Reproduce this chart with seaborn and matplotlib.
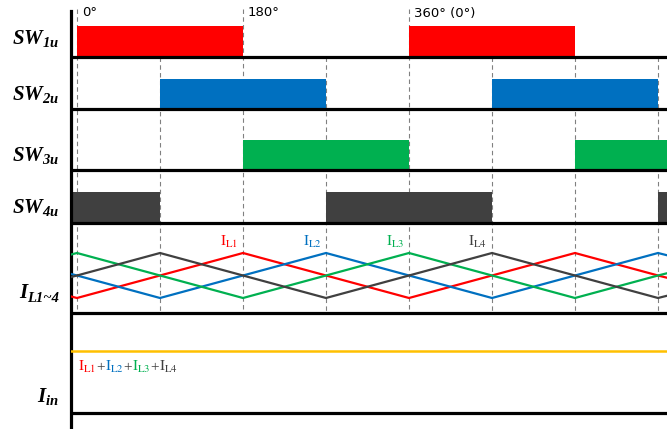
import numpy as np
import pandas as pd
import matplotlib
matplotlib.use("Agg")
import matplotlib.pyplot as plt
import seaborn as sns

# ---------------- data ----------------
angle_marks = [0, 90, 180, 270, 360, 450, 540, 630]
major_marks = [0, 180, 360]
major_labels = ["0°", "180°", "360° (0°)"]

sw1_start, sw1_end = [0, 360], [180, 540]
sw2_start, sw2_end = [90, 450], [270, 630]
sw3_start, sw3_end = [180, 540], [360, 640]
sw4_start, sw4_end = [-8, 270, 630], [90, 450, 640]

t_pts = [-7.6, 0, 90, 180, 270, 360, 450, 540, 630, 639.8]
il1 = [0.04, 0.0, 0.5, 1.0, 0.5, 0.0, 0.5, 1.0, 0.5, 0.45]
il2 = [0.54, 0.5, 0.0, 0.5, 1.0, 0.5, 0.0, 0.5, 1.0, 0.95]
il3 = [0.96, 1.0, 0.5, 0.0, 0.5, 1.0, 0.5, 0.0, 0.5, 0.55]
il4 = [0.46, 0.5, 1.0, 0.5, 0.0, 0.5, 1.0, 0.5, 0.0, 0.05]
iin_t = [-7.6, 639.8]
iin = [2.0, 2.0]

series_names = ["IL1", "IL2", "IL3", "IL4"]
label_peaks = [180, 270, 360, 450]

# ---------------- style ----------------
sns.set_theme(style="white")
plt.rcParams["font.family"] = ["DejaVu Sans"]
plt.rcParams["mathtext.fontset"] = "custom"
plt.rcParams["mathtext.rm"] = "Liberation Serif:italic:bold"
plt.rcParams["mathtext.it"] = "Liberation Serif:italic:bold"
plt.rcParams["mathtext.bf"] = "Liberation Serif:italic:bold"

RED, BLUE, GREEN, GRAY, YEL = "#FF0000", "#0070C0", "#00B050", "#404040", "#FFC000"
colors = [RED, BLUE, GREEN, GRAY]

W, H, DPI = 667, 429, 100
fig = plt.figure(figsize=(W / DPI, H / DPI), dpi=DPI)
x0px = 70.5
ax = fig.add_axes([x0px / W, 0, (W - x0px) / W, 1])


def px2deg(px):
    return (px - 77) * 90.0 / 83.0


ax.set_xlim(px2deg(x0px), px2deg(667))
ax.set_ylim(H, 0)
ax.set_xticks([])
ax.set_yticks([])
for s in ["top", "right", "bottom"]:
    ax.spines[s].set_visible(False)
ax.spines["left"].set_linewidth(2.3)
ax.spines["left"].set_color("black")
ax.spines["left"].set_bounds(H, 11)

# dashed guide lines
for a in angle_marks:
    top = 9 if a in major_marks else 57
    ax.vlines(a, top, 312, colors="#808080", linewidth=0.8,
              linestyles=(0, (4, 3)), zorder=1)

# switch bars
rows = [
    (sw1_start, sw1_end, RED, 26, 57),
    (sw2_start, sw2_end, BLUE, 79, 109),
    (sw3_start, sw3_end, GREEN, 140, 170),
    (sw4_start, sw4_end, GRAY, 192, 223),
]
for st, en, c, top, base in rows:
    ax.broken_barh([(s, e - s) for s, e in zip(st, en)], (top, base - top),
                   facecolors=c, edgecolor="none", zorder=2)

# baselines
for yb in [57, 109, 170, 223, 313, 413]:
    ax.hlines(yb, px2deg(x0px), px2deg(667), colors="black", linewidth=2.3, zorder=4)

# currents via seaborn
TROUGH, AMP = 298, 45
frames = []
for name, vals in zip(series_names, [il1, il2, il3, il4]):
    frames.append(pd.DataFrame({"angle": t_pts,
                                "y": [TROUGH - v * AMP for v in vals],
                                "series": name}))
df = pd.concat(frames, ignore_index=True)
sns.lineplot(data=df, x="angle", y="y", hue="series", palette=colors,
             sort=False, legend=False, linewidth=1.6, ax=ax, zorder=3)

# input current
sns.lineplot(x=iin_t, y=[351 + 0 * v for v in iin], color=YEL, linewidth=1.8,
             ax=ax, zorder=3)

# degree labels
for a, lab in zip(major_marks, major_labels):
    ax.text(a + px2deg(82) - px2deg(77), 13, lab, fontsize=9.5, ha="left",
            va="center", color="black")

# row labels
row_labels = [r"$\mathrm{SW_{1u}}$", r"$\mathrm{SW_{2u}}$", r"$\mathrm{SW_{3u}}$",
              r"$\mathrm{SW_{4u}}$", None, r"$\mathrm{I_{in}}$"]
row_base = [44, 100, 161, 213, 298, 402]
for lab, yb in zip(row_labels, row_base):
    if lab is None:
        continue
    ax.text(px2deg(59), yb, lab, fontsize=15, ha="right", va="baseline",
            color="black", clip_on=False)

# I_L1~4 label built from two pieces
serif_bi = dict(family="Liberation Serif", weight="bold", style="italic", color="black")
sub = ax.text(px2deg(59), 302, "L1~4", fontsize=10.5, ha="right", va="baseline",
              clip_on=False, **serif_bi)
ax.annotate("I", xy=(0, 298), xycoords=(sub, "data"), fontsize=15, ha="right",
            va="baseline", **serif_bi)

# current labels
for name, pk, c in zip(series_names, label_peaks, colors):
    ax.text(pk - 5, 246, r"$\mathrm{I_{%s}}$" % name[1:], fontsize=11,
            math_fontfamily="stix", ha="right", va="baseline", color=c)

# sum formula
pieces = [(r"$\mathrm{I_{L1}}$", RED), ("+", GRAY),
          (r"$\mathrm{I_{L2}}$", BLUE), ("+", GRAY),
          (r"$\mathrm{I_{L3}}$", GREEN), ("+", GRAY),
          (r"$\mathrm{I_{L4}}$", GRAY)]
prev = ax.text(px2deg(78), 371, pieces[0][0], fontsize=11, math_fontfamily="stix",
               ha="left", va="baseline", color=pieces[0][1])
for txt, c in pieces[1:]:
    extra = {"family": "Liberation Serif"} if txt == "+" else {"math_fontfamily": "stix"}
    prev = ax.annotate(txt, xy=(1, 371), xycoords=(prev, "data"), fontsize=11,
                       ha="left", va="baseline", color=c, **extra)

fig.savefig("out.png", dpi=DPI)
